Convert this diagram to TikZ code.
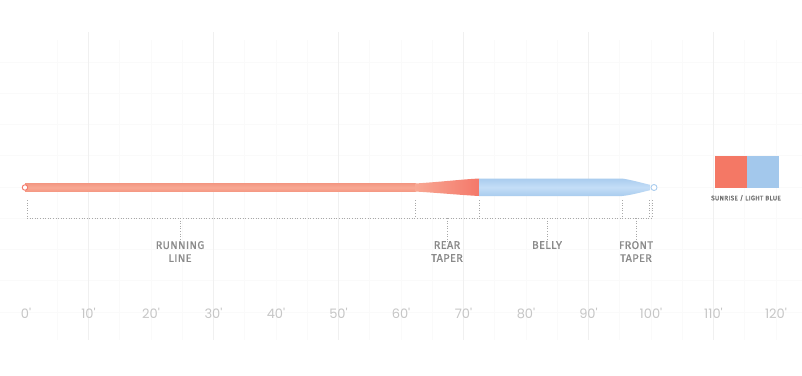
\documentclass[tikz,border=0pt]{standalone}
\usepackage{fontspec}
\setmainfont{Fira Sans}[FakeBold=0.8,LetterSpace=3]
\newfontfamily\axisfont{Poppins}
\newfontfamily\swfont{Fira Sans}[LetterSpace=4,FakeBold=1.5]
\definecolor{gridminor}{HTML}{FAFAFA}
\definecolor{gridmajor}{HTML}{F0F0F0}
\definecolor{runcol}{HTML}{F8A893}
\definecolor{runedge}{HTML}{F49883}
\definecolor{taperR}{HTML}{F4786A}
\definecolor{bellyc}{HTML}{A9CCEE}
\definecolor{bellyl}{HTML}{C4DEF7}
\definecolor{sunrise}{HTML}{F47865}
\definecolor{lightblue}{HTML}{A3C8EC}
\definecolor{dotc}{HTML}{A8A8A8}
\definecolor{lblc}{HTML}{8A8A8A}
\definecolor{axc}{HTML}{C6C6C6}
\tikzset{
  gmin/.style={draw=gridminor, line width=0.6},
  gmaj/.style={draw=gridmajor, line width=0.8},
  dotline/.style={draw=dotc, line width=0.8, dash pattern=on 1pt off 1.6pt},
  lbl/.style={text=lblc, font=\fontsize{11}{13}\selectfont, align=center, inner sep=0pt},
  axlbl/.style={text=axc, font=\axisfont\fontsize{13}{14}\selectfont, inner sep=0pt},
  swatch/.style={minimum width=32pt, minimum height=32pt, inner sep=0pt, draw=none},
  swlbl/.style={text=lblc!80!black, font=\swfont\fontsize{6.5}{8}\selectfont, inner sep=0pt},
}
\begin{document}
\begin{tikzpicture}[x=1pt,y=-1pt]
\useasboundingbox (0,0) rectangle (802,375);
\fill[white] (0,0) rectangle (802,375);
% grid
\foreach \y in {62,93,124,155,187,218,249,280,312}
  \draw[gmin] (0,\y) -- (802,\y);
\foreach \k in {1,...,24}
  \draw[gmin] ({26+31.25*\k},40) -- ({26+31.25*\k},340);
\foreach \k in {2,6,10,14,18,22}
  \draw[gmaj] ({26+31.25*\k},32) -- ({26+31.25*\k},340);
% fly line
\shade[top color=runedge, bottom color=runedge, middle color=runcol]
  (25,183.5) rectangle (416,191.5);
\shade[left color=runcol, right color=taperR]
  (415,183.5) .. controls (440,182) and (460,179.5) .. (479,178.5)
  -- (479,196) .. controls (460,195) and (440,193) .. (415,191.5) -- cycle;
\shade[top color=bellyc, bottom color=bellyc, middle color=bellyl]
  (479,178.5) -- (622,178.5) .. controls (632,180) and (642,183) .. (650,184.8)
  -- (650,190.2) .. controls (642,192) and (632,195) .. (622,196) -- (479,196) -- cycle;
\node[circle, draw=taperR, fill=white, line width=0.9, minimum size=5.5pt, inner sep=0pt] (loopL) at (25,187.5) {};
\node[circle, draw=bellyc, fill=white, line width=0.9, minimum size=6pt, inner sep=0pt] (loopR) at (654,187.5) {};
% bracket coordinates
\coordinate (t0) at (27,200);   \coordinate (b0) at (27,218);
\coordinate (t1) at (415,200);  \coordinate (b1) at (415,218);
\coordinate (t2) at (479,200);  \coordinate (b2) at (479,218);
\coordinate (t3) at (622,200);  \coordinate (b3) at (622,218);
\coordinate (t4) at (649,200);  \coordinate (b4) at (649,218);
\coordinate (t5) at (652,200);  \coordinate (b5) at (652,218);
\draw[dotline] (b0) -- (b5);
\foreach \i in {0,...,5} \draw[dotline] (t\i) -- (b\i);
% labels
\node[lbl, anchor=north] (run) at (180,241) {RUNNING\\LINE};
\node[lbl, anchor=north] (rear) at (447,241) {REAR\\TAPER};
\node[lbl, anchor=north] (belly) at (547,241) {BELLY};
\node[lbl, anchor=north] (front) at (636,241) {FRONT\\TAPER};
\coordinate (d1) at (180,218); \coordinate (d2) at (447,218);
\coordinate (d3) at (547,218); \coordinate (d4) at (636,218);
\draw[dotline] (d1) -- ([yshift=-3pt]run.north);
\draw[dotline] (d2) -- ([yshift=-3pt]rear.north);
\draw[dotline] (d3) -- ([yshift=-3pt]belly.north);
\draw[dotline] (d4) -- ([yshift=-3pt]front.north);
% axis
\foreach \i/\t in {0/0,1/10,2/20,3/30,4/40,5/50,6/60,7/70,8/80,9/90,10/100,11/110,12/120}
  \node[axlbl] (ax\i) at ({26+62.5*\i},313) {\t'};
% swatch
\node[swatch, fill=sunrise] (sw1) at (731,172) {};
\node[swatch, fill=lightblue, anchor=west] (sw2) at (sw1.east) {};
\node[swlbl] (swl) at (746,198) {SUNRISE / LIGHT BLUE};
\end{tikzpicture}
\end{document}
